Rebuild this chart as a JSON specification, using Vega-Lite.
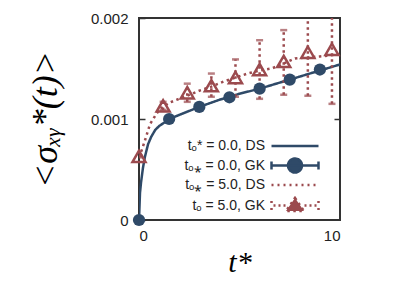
{
  "$schema": "https://vega.github.io/schema/vega-lite/v6.json",
  "width": 201,
  "height": 202,
  "autosize": "none",
  "padding": {"left": 139, "top": 18, "right": 71, "bottom": 67},
  "background": "white",
  "config": {
    "view": {"stroke": "#333333", "strokeWidth": 2},
    "axis": {"labelFont": "Liberation Sans", "labelFontSize": 15, "labelColor": "#222222", "domain": false, "grid": false}
  },
  "data": {"values": [
    {"s": "DS0", "t": 0, "v": 0},
    {"s": "DS0", "t": 0.05, "v": 0.00027},
    {"s": "DS0", "t": 0.1, "v": 0.00037},
    {"s": "DS0", "t": 0.2, "v": 0.00052},
    {"s": "DS0", "t": 0.3, "v": 0.00063},
    {"s": "DS0", "t": 0.45, "v": 0.00075},
    {"s": "DS0", "t": 0.6, "v": 0.00082},
    {"s": "DS0", "t": 0.8, "v": 0.00089},
    {"s": "DS0", "t": 1.0, "v": 0.00093},
    {"s": "DS0", "t": 1.3, "v": 0.00097},
    {"s": "DS0", "t": 1.5, "v": 0.001},
    {"s": "DS0", "t": 2, "v": 0.00104},
    {"s": "DS0", "t": 3, "v": 0.00112},
    {"s": "DS0", "t": 4, "v": 0.00119},
    {"s": "DS0", "t": 4.5, "v": 0.00122},
    {"s": "DS0", "t": 5, "v": 0.00125},
    {"s": "DS0", "t": 6, "v": 0.0013},
    {"s": "DS0", "t": 7, "v": 0.00136},
    {"s": "DS0", "t": 7.5, "v": 0.00139},
    {"s": "DS0", "t": 8, "v": 0.00142},
    {"s": "DS0", "t": 9, "v": 0.00148},
    {"s": "DS0", "t": 10, "v": 0.00154},
    {"s": "GK0", "t": 0, "v": 0, "lo": 0, "hi": 0.00002},
    {"s": "GK0", "t": 1.5, "v": 0.001, "lo": 0.00098, "hi": 0.00102},
    {"s": "GK0", "t": 3, "v": 0.00112, "lo": 0.0011, "hi": 0.00114},
    {"s": "GK0", "t": 4.5, "v": 0.001215, "lo": 0.001195, "hi": 0.001235},
    {"s": "GK0", "t": 6, "v": 0.0013, "lo": 0.00128, "hi": 0.00132},
    {"s": "GK0", "t": 7.5, "v": 0.00139, "lo": 0.00137, "hi": 0.00141},
    {"s": "GK0", "t": 9, "v": 0.00149, "lo": 0.00147, "hi": 0.00151},
    {"s": "DS5", "t": 0, "v": 0.00062},
    {"s": "DS5", "t": 0.15, "v": 0.0007},
    {"s": "DS5", "t": 0.3, "v": 0.00079},
    {"s": "DS5", "t": 0.55, "v": 0.00095},
    {"s": "DS5", "t": 0.8, "v": 0.00103},
    {"s": "DS5", "t": 1.04, "v": 0.0011},
    {"s": "DS5", "t": 1.5, "v": 0.00116},
    {"s": "DS5", "t": 2, "v": 0.0012},
    {"s": "DS5", "t": 2.4, "v": 0.00123},
    {"s": "DS5", "t": 3, "v": 0.00128},
    {"s": "DS5", "t": 3.6, "v": 0.00132},
    {"s": "DS5", "t": 4.2, "v": 0.00137},
    {"s": "DS5", "t": 4.8, "v": 0.00141},
    {"s": "DS5", "t": 5.4, "v": 0.00145},
    {"s": "DS5", "t": 6, "v": 0.00148},
    {"s": "DS5", "t": 6.6, "v": 0.0015},
    {"s": "DS5", "t": 7.2, "v": 0.00155},
    {"s": "DS5", "t": 7.76, "v": 0.0016},
    {"s": "DS5", "t": 8.4, "v": 0.00161},
    {"s": "DS5", "t": 9, "v": 0.00162},
    {"s": "DS5", "t": 10, "v": 0.00164},
    {"s": "GK5", "t": 0, "v": 0.00063, "lo": 0.00062, "hi": 0.00064},
    {"s": "GK5", "t": 1.2, "v": 0.00113, "lo": 0.00109, "hi": 0.00117},
    {"s": "GK5", "t": 2.4, "v": 0.00126, "lo": 0.00117, "hi": 0.00135},
    {"s": "GK5", "t": 3.6, "v": 0.00133, "lo": 0.00122, "hi": 0.00145},
    {"s": "GK5", "t": 4.8, "v": 0.00141, "lo": 0.00122, "hi": 0.00159},
    {"s": "GK5", "t": 6.0, "v": 0.00149, "lo": 0.0012, "hi": 0.00178},
    {"s": "GK5", "t": 7.2, "v": 0.00157, "lo": 0.00124, "hi": 0.00188},
    {"s": "GK5", "t": 8.4, "v": 0.00166, "lo": 0.00123, "hi": 0.00209},
    {"s": "GK5", "t": 9.6, "v": 0.00169, "lo": 0.00115, "hi": 0.00223}
  ]},
  "encoding": {
    "x": {"field": "t", "type": "quantitative",
      "scale": {"domain": [0, 10], "nice": false, "zero": false},
      "axis": {"values": [0, 10], "ticks": false, "labelPadding": 8, "title": "t*", "titleFont": "Liberation Serif", "titleFontStyle": "italic", "titleFontWeight": "normal", "titleFontSize": 30, "titleColor": "#000000", "titlePadding": 4}}
  },
  "layer": [
    {
      "transform": [{"filter": "datum.s === 'DS0' || datum.s === 'DS5'"}],
      "mark": {"type": "line", "strokeWidth": 2.5, "clip": true},
      "encoding": {
        "y": {"field": "v", "type": "quantitative",
          "scale": {"domain": [0, 0.002], "nice": false, "zero": false},
          "axis": {"orient": "left", "values": [0, 0.001, 0.002], "labelExpr": "datum.value == 0 ? '0' : format(datum.value, '.3f')", "tickSize": -6, "tickColor": "#333333", "tickWidth": 1.5, "labelPadding": 17, "title": "<σₓᵧ*(t)>", "titleFont": "Liberation Serif", "titleFontStyle": "italic", "titleFontWeight": "normal", "titleFontSize": 36, "titleColor": "#000000", "titlePadding": 26}},
        "color": {"field": "s", "type": "nominal",
          "scale": {"domain": ["DS0", "GK0", "DS5", "GK5"], "range": ["#2f4a68", "#2f4a68", "#9b4a4e", "#9b4a4e"]},
          "legend": {
            "orient": "none", "legendX": 44, "legendY": 121, "title": null, "padding": 0,
            "direction": "vertical",
            "rowPadding": 0.5, "symbolSize": 100, "symbolStrokeWidth": 2.5,
            "labelFont": "Liberation Sans", "labelFontSize": 14, "labelColor": "#222222", "labelLimit": 300,
            "labelAlign": "right", "labelOffset": -37, "symbolOffset": 105,
            "labelExpr": "datum.value === 'DS0' ? 'tₒ* = 0.0, DS' : datum.value === 'GK0' ? 'tₒ⁎ = 0.0, GK' : datum.value === 'DS5' ? 'tₒ⁎ = 5.0, DS' : 'tₒ = 5.0, GK'",
            "encode": {"symbols": {"update": {
              "shape": {"signal": "datum.value === 'DS0' ? 'M-4.7,0H4.7' : datum.value === 'GK0' ? 'M-4.7,-0.8V0.8M-4.7,0H4.7M4.7,-0.8V0.8M1.4,0A1.4,1.4,0,1,1,-1.4,0A1.4,1.4,0,1,1,1.4,0Z' : datum.value === 'DS5' ? 'M-4.7,0h0.4M-3.5,0h0.4M-2.3,0h0.4M-1.1,0h0.4M0.1,0h0.4M1.3,0h0.4M2.5,0h0.4M3.7,0h0.4' : 'M-4.7,-0.9V-0.5M-4.7,0.5V0.9M-4.3,0h0.4M-3.3,0h0.4M-2.3,0h0.4M1.9,0h0.4M2.9,0h0.4M3.9,0h0.4M4.7,-0.9V-0.5M4.7,0.5V0.9M0,-1.5L1.8,1.1L-1.8,1.1Z'"},
              "fill": {"signal": "datum.value === 'GK0' ? '#2f4a68' : 'transparent'"},
              "stroke": {"signal": "datum.value === 'DS0' || datum.value === 'GK0' ? '#2f4a68' : '#9b4a4e'"},
              "strokeWidth": {"value": 2.5},
              "strokeDash": {"value": [1, 0]},
              "size": {"value": 100},
              "opacity": {"value": 1}
            }}}
          }},
        "strokeDash": {"field": "s", "type": "nominal",
          "scale": {"domain": ["DS0", "GK0", "DS5", "GK5"], "range": [[1, 0], [1, 0], [2.5, 3.5], [2.5, 3.5]]},
          "legend": null}
      }
    },
    {
      "transform": [{"filter": "datum.s === 'GK0' || datum.s === 'GK5'"}],
      "mark": {"type": "rule", "strokeWidth": 2.5, "clip": true},
      "encoding": {
        "y": {"field": "lo", "type": "quantitative",
          "axis": {"orient": "right", "values": [0.001], "labels": false, "tickSize": -6, "tickColor": "#333333", "tickWidth": 1.5, "title": null}},
        "y2": {"field": "hi"},
        "color": {"field": "s", "type": "nominal"},
        "strokeDash": {"field": "s", "type": "nominal", "legend": null}
      }
    },
    {
      "transform": [{"filter": "datum.s === 'GK0' || datum.s === 'GK5'"}],
      "mark": {"type": "tick", "orient": "horizontal", "size": 7, "thickness": 2.5, "clip": true},
      "encoding": {
        "y": {"field": "hi", "type": "quantitative", "axis": null},
        "color": {"field": "s", "type": "nominal"}
      }
    },
    {
      "transform": [{"filter": "datum.s === 'GK0' || datum.s === 'GK5'"}],
      "mark": {"type": "tick", "orient": "horizontal", "size": 7, "thickness": 2.5, "clip": true},
      "encoding": {
        "y": {"field": "lo", "type": "quantitative", "axis": null},
        "color": {"field": "s", "type": "nominal"}
      }
    },
    {
      "transform": [{"filter": "datum.s === 'GK0'"}],
      "mark": {"type": "point", "shape": "circle", "filled": true, "opacity": 1, "size": 150},
      "encoding": {
        "y": {"field": "v", "type": "quantitative", "axis": null},
        "color": {"field": "s", "type": "nominal"}
      }
    },
    {
      "transform": [{"filter": "datum.s === 'GK5'"}],
      "mark": {"type": "point", "shape": "triangle-up", "filled": false, "opacity": 1, "size": 170, "strokeWidth": 2.5},
      "encoding": {
        "y": {"field": "v", "type": "quantitative", "axis": null},
        "color": {"field": "s", "type": "nominal"}
      }
    }
  ],
  "resolve": {"axis": {"y": "independent"}}
}
